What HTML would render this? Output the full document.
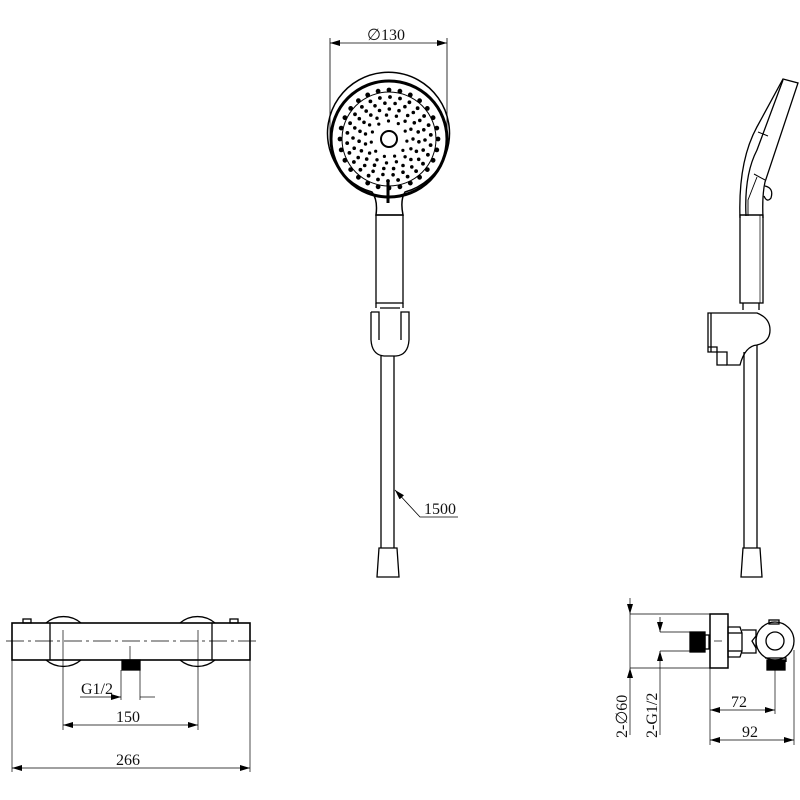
<!DOCTYPE html>
<html><head><meta charset="utf-8"><style>
html,body{margin:0;padding:0;background:#fff;width:800px;height:800px;overflow:hidden}
svg{display:block}
text{font-family:"Liberation Serif",serif;fill:#111;font-size:16px}
</style></head><body>
<svg width="800" height="800" viewBox="0 0 800 800" xmlns="http://www.w3.org/2000/svg">
<defs>
<marker id="a" viewBox="0 0 10 6" refX="10" refY="3" markerWidth="10" markerHeight="6" orient="auto-start-reverse" markerUnits="userSpaceOnUse"><path d="M0,0 L10,3 L0,6 z" fill="#000"/></marker>
</defs>
<g fill="none" stroke="#000" stroke-width="1.3">
<!-- Front shower head -->
<line x1="330" y1="38" x2="330" y2="140" stroke-width="0.8"/>
<line x1="447" y1="38" x2="447" y2="140" stroke-width="0.8"/>
<line x1="330" y1="43" x2="447" y2="43" stroke-width="0.8" marker-start="url(#a)" marker-end="url(#a)"/>
<path d="M372,192 A61,61 0 1 1 405,192 Q400,200 403,215 L376,215 Q378,200 372,192 Z" stroke-width="1.5"/>
<circle cx="389" cy="139" r="58" stroke-width="3"/>
<circle cx="389" cy="139" r="47" stroke-width="1"/>
<circle cx="389" cy="139" r="8" stroke-width="2"/>
<line x1="388" y1="180" x2="388" y2="203" stroke-width="3"/>
<rect x="376" y="215" width="27" height="88"/>
<line x1="376" y1="303" x2="376" y2="308"/><line x1="403" y1="303" x2="403" y2="308"/>
<path d="M371,312 L379,312 L379,340 M371,312 L371,340 Q372,355 384,356 L396,356 Q408,355 409,340 L409,312 L401,312 L401,340"/>
<line x1="380" y1="308" x2="400" y2="308"/>
<line x1="381" y1="356" x2="381" y2="548"/>
<line x1="394" y1="356" x2="394" y2="548"/>
<path d="M379,548 L397,548 L399,577 L377,577 Z"/>
<path d="M395,490 L420,517 L458,517" stroke-width="0.8" marker-start="url(#a)"/>
<!-- Side view -->
<path d="M740,218 Q738,160 758,125 L783,79 L798,83 L765,182 Q762,195 763,218"/>
<path d="M746,216 Q744,175 757,150 L783,80"/>
<path d="M757,177 L748,200 L748,216" stroke-width="0.9"/>
<line x1="758" y1="132" x2="768" y2="136" stroke-width="1"/>
<line x1="754" y1="174" x2="765" y2="180" stroke-width="1"/>
<path d="M765,186 Q774,188 771,198 Q767,203 764,196"/>
<line x1="740" y1="215" x2="763" y2="215"/>
<rect x="740" y="215" width="23" height="88"/>
<line x1="760" y1="215" x2="760" y2="303" stroke-width="0.7"/>
<line x1="743" y1="303" x2="743" y2="310"/><line x1="759" y1="303" x2="759" y2="310"/>
<path d="M708,313 L757,313 Q770,318 770,330 Q770,342 757,345 Q745,346 740,365 L727,365 L727,352 L708,352 Z"/>
<path d="M711,313 L711,352 M708,347 L717,347 L717,365 L727,365"/>
<line x1="744" y1="352" x2="744" y2="548"/>
<line x1="757" y1="345" x2="757" y2="548"/>
<path d="M743,548 L760,548 L762,577 L741,577 Z"/>
<!-- Bottom left valve -->
<path d="M46,623 A27,27 0 0 1 81,623 M46,660 A27,27 0 0 0 81,660"/>
<path d="M180,623 A27,27 0 0 1 215,623 M180,660 A27,27 0 0 0 215,660"/>
<rect x="12" y="623" width="238" height="37" stroke-width="1.6"/>
<line x1="50" y1="623" x2="50" y2="660"/>
<line x1="212" y1="623" x2="212" y2="660"/>
<rect x="23" y="619" width="8" height="4"/><rect x="230" y="619" width="8" height="4"/>
<line x1="6" y1="641" x2="256" y2="641" stroke-width="0.8" stroke-dasharray="18,4,3,4"/>
<line x1="63" y1="630" x2="63" y2="730" stroke-width="0.7"/>
<line x1="198" y1="630" x2="198" y2="730" stroke-width="0.7"/>
<line x1="130" y1="646" x2="130" y2="660" stroke-width="0.7"/>
<rect x="122" y="660" width="18" height="10" fill="#000"/>
<line x1="121" y1="670" x2="121" y2="700" stroke-width="0.7"/>
<line x1="140" y1="670" x2="140" y2="700" stroke-width="0.7"/>
<line x1="80" y1="697" x2="121" y2="697" stroke-width="0.7" marker-end="url(#a)"/>
<line x1="140" y1="697" x2="155" y2="697" stroke-width="0.7"/>
<line x1="63" y1="725" x2="198" y2="725" stroke-width="0.8" marker-start="url(#a)" marker-end="url(#a)"/>
<line x1="12" y1="660" x2="12" y2="772" stroke-width="0.7"/>
<line x1="250" y1="660" x2="250" y2="772" stroke-width="0.7"/>
<line x1="12" y1="768" x2="250" y2="768" stroke-width="0.8" marker-start="url(#a)" marker-end="url(#a)"/>
<!-- Bottom right side -->
<rect x="710" y="614" width="18" height="54" stroke-width="1.5"/>
<line x1="630" y1="614" x2="710" y2="614" stroke-width="0.7"/>
<line x1="630" y1="668" x2="710" y2="668" stroke-width="0.7"/>
<line x1="630" y1="598" x2="630" y2="614" stroke-width="0.7" marker-end="url(#a)"/>
<line x1="630" y1="614" x2="630" y2="668" stroke-width="0.7"/>
<line x1="630" y1="686" x2="630" y2="668" stroke-width="0.7" marker-end="url(#a)"/>
<line x1="630" y1="686" x2="630" y2="735" stroke-width="0.7"/>
<line x1="660" y1="632" x2="690" y2="632" stroke-width="0.7"/>
<line x1="660" y1="651" x2="690" y2="651" stroke-width="0.7"/>
<line x1="660" y1="617" x2="660" y2="632" stroke-width="0.7" marker-end="url(#a)"/>
<line x1="660" y1="666" x2="660" y2="651" stroke-width="0.7" marker-end="url(#a)"/>
<line x1="660" y1="666" x2="660" y2="735" stroke-width="0.7"/>
<rect x="690" y="632" width="15" height="20" fill="#000"/>
<rect x="705" y="635" width="4" height="14"/>
<line x1="714" y1="641" x2="722" y2="641" stroke-width="0.7"/>
<path d="M728,627 L740,627 L742,633 L742,651 L740,657 L728,657 Z"/>
<line x1="728" y1="633" x2="742" y2="633"/><line x1="728" y1="651" x2="742" y2="651"/>
<path d="M742,630 L756,630 L756,653 L742,653"/>
<path d="M756,636 L752,641 L756,648"/>
<circle cx="775" cy="641" r="19"/>
<circle cx="775" cy="641" r="9"/>
<rect x="769" y="620" width="10" height="4"/>
<path d="M765,658 L786,658 L786,662"/>
<rect x="767" y="660" width="18" height="10" fill="#000"/>
<line x1="710" y1="668" x2="710" y2="745" stroke-width="0.7"/>
<line x1="775" y1="670" x2="775" y2="714" stroke-width="0.7"/>
<line x1="794" y1="650" x2="794" y2="745" stroke-width="0.7"/>
<line x1="710" y1="710" x2="775" y2="710" stroke-width="0.8" marker-start="url(#a)" marker-end="url(#a)"/>
<line x1="710" y1="740" x2="794" y2="740" stroke-width="0.8" marker-start="url(#a)" marker-end="url(#a)"/>
</g>
<g id="dots" fill="#000"></g>
<text x="367" y="40">∅130</text>
<text x="424" y="514">1500</text>
<text x="81" y="694">G1/2</text>
<text x="116" y="722">150</text>
<text x="116" y="765">266</text>
<text x="731" y="707">72</text>
<text x="742" y="737">92</text>
<text transform="translate(627,738) rotate(-90)">2-∅60</text>
<text transform="translate(657,738) rotate(-90)">2-G1/2</text>
</svg>
<script>
(function(){var g=document.getElementById('dots'),ns='http://www.w3.org/2000/svg',cx=389,cy=139;
function d(x,y,r){var c=document.createElementNS(ns,'circle');c.setAttribute('cx',x.toFixed(1));c.setAttribute('cy',y.toFixed(1));c.setAttribute('r',r);g.appendChild(c);}
var rings=[[49,28,2.4,0],[42,26,1.9,0.1],[36,22,1.8,0.05],[30,19,1.8,0.12],[24,15,1.7,0],[18,11,1.6,0.2]];
rings.forEach(function(R){for(var i=0;i<R[1];i++){var a=(i+R[3]*R[1])/R[1]*Math.PI*2;d(cx+R[0]*Math.cos(a),cy+R[0]*Math.sin(a),R[2]);}});
})();
</script>
</body></html>
